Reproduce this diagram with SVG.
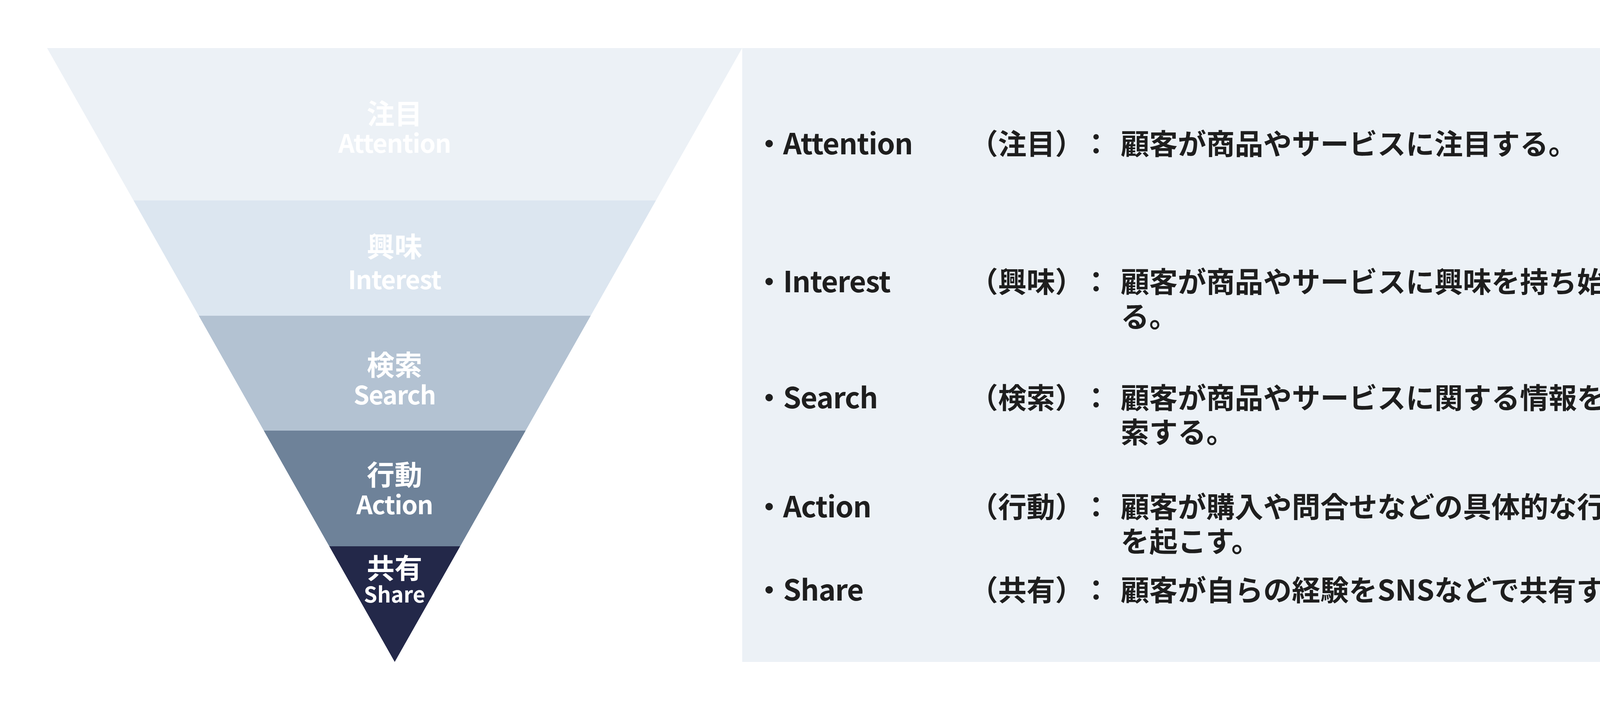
<svg xmlns="http://www.w3.org/2000/svg" width="4399" height="1817" viewBox="0 0 4399 1817">
<style>
.t{font-family:"Noto Sans CJK JP","Noto Sans",sans-serif;font-weight:700}
.fl{fill:#FFFFFF;text-anchor:middle}
.fj{font-size:71px}
.fe{font-size:65px;letter-spacing:-1.5px}
.pj{fill:#1E1E1E;font-size:73px}
.pl{fill:#1E1E1E;font-size:74px;letter-spacing:-1.3px}
.pc{fill:#1E1E1E;font-size:73px;text-anchor:middle}
</style>
<rect x="0" y="0" width="4399" height="1817" fill="#FFFFFF"/>
<g id="panel">
<rect x="1900" y="123" width="2377" height="1571" fill="#ECF1F6"/>
</g>
<g id="funnel-attention">
<polygon points="120.5,123 1900,123 1679.2,513 341.8,513" fill="#ECF1F6"/>
<text class="t fl fj" x="1010" y="317">注目</text>
<text class="t fl fe" x="1010" y="391">Attention</text>
</g>
<g id="funnel-interest">
<polygon points="341.8,513 1679.2,513 1512.2,808 508.8,808" fill="#DCE6F0"/>
<text class="t fl fj" x="1010" y="657">興味</text>
<text class="t fl fe" x="1010" y="740">Interest</text>
</g>
<g id="funnel-search">
<polygon points="508.8,808 1512.2,808 1345.7,1102 675.3,1102" fill="#B3C2D2"/>
<text class="t fl fj" x="1010" y="960">検索</text>
<text class="t fl fe" x="1010" y="1035">Search</text>
</g>
<g id="funnel-action">
<polygon points="675.3,1102 1345.7,1102 1178.1,1398 842.9,1398" fill="#6E8299"/>
<text class="t fl fj" x="1010" y="1241">行動</text>
<text class="t fl fe" x="1010" y="1316">Action</text>
</g>
<g id="funnel-share">
<polygon points="842.9,1398 1178.1,1398 1010.5,1694" fill="#232849"/>
<text class="t fl fj" x="1010" y="1480">共有</text>
<text class="t fl" x="1010" y="1542" font-size="55">Share</text>
</g>
<g id="connectors"></g>
<g id="row-attention">
<text class="t pl" x="1932" y="395">・Attention</text>
<text class="t pj" x="2482" y="395">（注目）</text>
<text class="t pc" x="2806" y="395">：</text>
<text class="t pj" x="2869" y="395">顧客が商品やサービスに注目する。</text>
</g>
<g id="row-interest">
<text class="t pl" x="1932" y="748">・Interest</text>
<text class="t pj" x="2482" y="748">（興味）</text>
<text class="t pc" x="2806" y="748">：</text>
<text class="t pj" x="2869" y="748">顧客が商品やサービスに興味を持ち始め</text>
<text class="t pj" x="2869" y="837">る。</text>
</g>
<g id="row-search">
<text class="t pl" x="1932" y="1045">・Search</text>
<text class="t pj" x="2482" y="1045">（検索）</text>
<text class="t pc" x="2806" y="1045">：</text>
<text class="t pj" x="2869" y="1045">顧客が商品やサービスに関する情報を検</text>
<text class="t pj" x="2869" y="1133">索する。</text>
</g>
<g id="row-action">
<text class="t pl" x="1932" y="1324">・Action</text>
<text class="t pj" x="2482" y="1324">（行動）</text>
<text class="t pc" x="2806" y="1324">：</text>
<text class="t pj" x="2869" y="1324">顧客が購入や問合せなどの具体的な行動</text>
<text class="t pj" x="2869" y="1412">を起こす。</text>
</g>
<g id="row-share">
<text class="t pl" x="1932" y="1537">・Share</text>
<text class="t pj" x="2482" y="1537">（共有）</text>
<text class="t pc" x="2806" y="1537">：</text>
<text class="t pj" x="2869" y="1537">顧客が自らの経験をSNSなどで共有する。</text>
</g>
</svg>
